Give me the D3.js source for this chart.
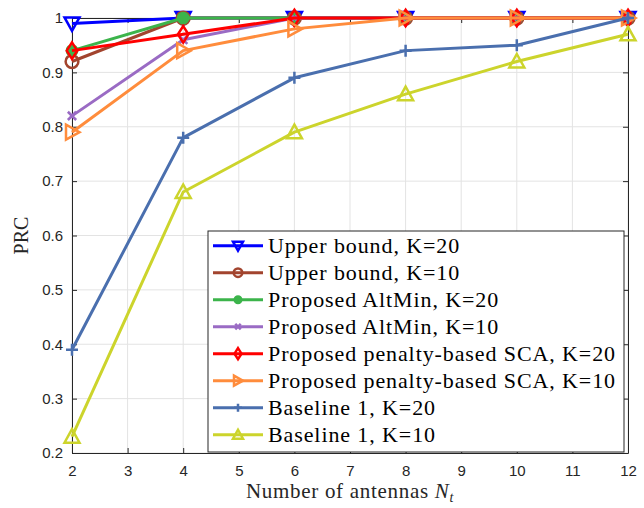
<!DOCTYPE html>
<html>
  <head>
    <meta charset="UTF-8">
    <script src="https://d3js.org/d3.v7.min.js"></script>
    <style>
      body { margin: 0; background: #fff; }
      .tick text { font-family: "Liberation Sans", Arial, sans-serif; font-size: 15px; fill: #262626; }
      .legend text { font-family: "Liberation Serif", serif; font-size: 22px; letter-spacing: 0.9px; }
    </style>
  </head>
  <body>
    <div id="chart"></div>
    <script>
      // values
      const antennas = [2, 4, 6, 8, 10, 12];
      const xTicks = [2, 3, 4, 5, 6, 7, 8, 9, 10, 11, 12];
      const yTicks = [0.2, 0.3, 0.4, 0.5, 0.6, 0.7, 0.8, 0.9, 1];

      const upperK20 = [0.99, 1, 1, 1, 1, 1];
      const upperK10 = [0.92, 1, 1, 1, 1, 1];
      const altMinK20 = [0.94, 1, 1, 1, 1, 1];
      const altMinK10 = [0.82, 0.96, 1, 1, 1, 1];
      const scaK20 = [0.94, 0.97, 1, 1, 1, 1];
      const scaK10 = [0.79, 0.94, 0.98, 1, 1, 1];
      const baseK20 = [0.39, 0.78, 0.89, 0.94, 0.95, 1];
      const baseK10 = [0.23, 0.68, 0.79, 0.86, 0.92, 0.97];

      const series = [
        { name: "Upper bound, K=20", values: upperK20, color: "#0000ff", marker: "tridown" },
        { name: "Upper bound, K=10", values: upperK10, color: "#a2442e", marker: "circle" },
        { name: "Proposed AltMin, K=20", values: altMinK20, color: "#3cb44b", marker: "dot" },
        { name: "Proposed AltMin, K=10", values: altMinK10, color: "#9a6bc4", marker: "cross" },
        { name: "Proposed penalty-based SCA, K=20", values: scaK20, color: "#ff0000", marker: "diamond" },
        { name: "Proposed penalty-based SCA, K=10", values: scaK10, color: "#ff8c3c", marker: "triright" },
        { name: "Baseline 1, K=20", values: baseK20, color: "#4a6fae", marker: "plus" },
        { name: "Baseline 1, K=10", values: baseK10, color: "#ccd42c", marker: "triup" }
      ];

      const width = 644, height = 508;
      const margin = { top: 18, right: 16, bottom: 55, left: 72 };
      const w = width - margin.left - margin.right;
      const h = height - margin.top - margin.bottom;

      const svg = d3.select("#chart").append("svg")
        .attr("width", width).attr("height", height);
      const g = svg.append("g").attr("transform", `translate(${margin.left},${margin.top})`);

      const x = d3.scaleLinear().domain([2, 12]).range([0, w]);
      const y = d3.scaleLinear().domain([0.2, 1]).range([h, 0]);

      // grid
      g.append("g").selectAll("line").data(xTicks).enter().append("line")
        .attr("x1", d => x(d)).attr("x2", d => x(d)).attr("y1", 0).attr("y2", h)
        .attr("stroke", "#e3e3e3").attr("stroke-width", 1);
      g.append("g").selectAll("line").data(yTicks).enter().append("line")
        .attr("y1", d => y(d)).attr("y2", d => y(d)).attr("x1", 0).attr("x2", w)
        .attr("stroke", "#e3e3e3").attr("stroke-width", 1);

      // axes
      g.append("g").attr("transform", `translate(0,${h})`)
        .call(d3.axisBottom(x).tickValues(xTicks).tickSizeInner(-5).tickSizeOuter(0).tickPadding(12));
      g.append("g")
        .call(d3.axisLeft(y).tickValues(yTicks).tickFormat(d3.format("")).tickSizeInner(-5).tickSizeOuter(0).tickPadding(9));
      g.append("g")
        .call(d3.axisTop(x).tickValues(xTicks).tickFormat("").tickSizeInner(-5).tickSizeOuter(0));
      g.append("g").attr("transform", `translate(${w},0)`)
        .call(d3.axisRight(y).tickValues(yTicks).tickFormat("").tickSizeInner(-5).tickSizeOuter(0));
      g.selectAll(".domain, .tick line").attr("stroke", "#262626");

      function drawMarker(sel, type, color, r) {
        if (type === "circle") {
          sel.append("circle").attr("r", r * 0.85).attr("fill", "none").attr("stroke", color).attr("stroke-width", 2.5);
        } else if (type === "dot") {
          sel.append("circle").attr("r", r * 0.75).attr("fill", color).attr("stroke", color).attr("stroke-width", 1.5);
        } else if (type === "tridown") {
          sel.append("path").attr("d", `M${-r},${-r * 0.8}L${r},${-r * 0.8}L0,${r}Z`)
            .attr("fill", "none").attr("stroke", color).attr("stroke-width", 2.5);
        } else if (type === "triup") {
          sel.append("path").attr("d", `M${-r},${r * 0.8}L${r},${r * 0.8}L0,${-r}Z`)
            .attr("fill", "none").attr("stroke", color).attr("stroke-width", 2.5);
        } else if (type === "triright") {
          sel.append("path").attr("d", `M${-r * 0.8},${-r}L${-r * 0.8},${r}L${r},0Z`)
            .attr("fill", "none").attr("stroke", color).attr("stroke-width", 2.5);
        } else if (type === "diamond") {
          sel.append("path").attr("d", `M0,${-r * 1.1}L${r * 0.7},0L0,${r * 1.1}L${-r * 0.7},0Z`)
            .attr("fill", "none").attr("stroke", color).attr("stroke-width", 2.5);
        } else if (type === "cross") {
          const c = r * 0.55;
          sel.append("path").attr("d", `M${-c},${-c}L${c},${c}M${-c},${c}L${c},${-c}`)
            .attr("fill", "none").attr("stroke", color).attr("stroke-width", 2.5);
        } else if (type === "plus") {
          const c = r * 0.8;
          sel.append("path").attr("d", `M${-c},0L${c},0M0,${-c}L0,${c}`)
            .attr("fill", "none").attr("stroke", color).attr("stroke-width", 2.5);
        }
      }

      const line = d3.line().x((d, i) => x(antennas[i])).y(d => y(d));

      series.forEach(s => {
        const sg = g.append("g");
        sg.append("path").datum(s.values).attr("d", line)
          .attr("fill", "none").attr("stroke", s.color).attr("stroke-width", 3)
          .attr("stroke-linejoin", "round");
        sg.selectAll(".m").data(s.values).enter().append("g")
          .attr("transform", (d, i) => `translate(${x(antennas[i])},${y(d)})`)
          .each(function () { drawMarker(d3.select(this), s.marker, s.color, 7.5); });
      });

      // legend
      const lg = g.append("g").attr("class", "legend")
        .attr("transform", `translate(${208 - margin.left},${231 - margin.top})`);
      lg.append("rect").attr("width", 416).attr("height", 221)
        .attr("fill", "#fff").attr("stroke", "#262626").attr("stroke-width", 1);
      const items = lg.selectAll(".item").data(series).enter().append("g")
        .attr("class", "item")
        .attr("transform", (d, i) => `translate(0,${14.7 + i * 27})`);
      items.append("line").attr("x1", 5).attr("x2", 55)
        .attr("stroke", d => d.color).attr("stroke-width", 3);
      items.append("g").attr("transform", "translate(30,0)")
        .each(function (d) { drawMarker(d3.select(this), d.marker, d.color, 5); });
      items.append("text").attr("x", 60).attr("y", 7).text(d => d.name);

      // axis labels
      svg.append("text")
        .attr("x", margin.left + w / 2).attr("y", 498)
        .attr("text-anchor", "middle")
        .style("font-family", "Liberation Serif, serif").style("font-size", "21px")
        .style("letter-spacing", "0.7px").style("fill", "#262626")
        .html('Number of antennas <tspan font-style="italic">N</tspan><tspan font-style="italic" font-size="14px" dy="4">t</tspan>');
      svg.append("text")
        .attr("transform", `translate(28,${margin.top + h / 2}) rotate(-90)`)
        .attr("text-anchor", "middle")
        .style("font-family", "Liberation Serif, serif").style("font-size", "20px").style("fill", "#262626")
        .text("PRC");
    </script>
  </body>
</html>
